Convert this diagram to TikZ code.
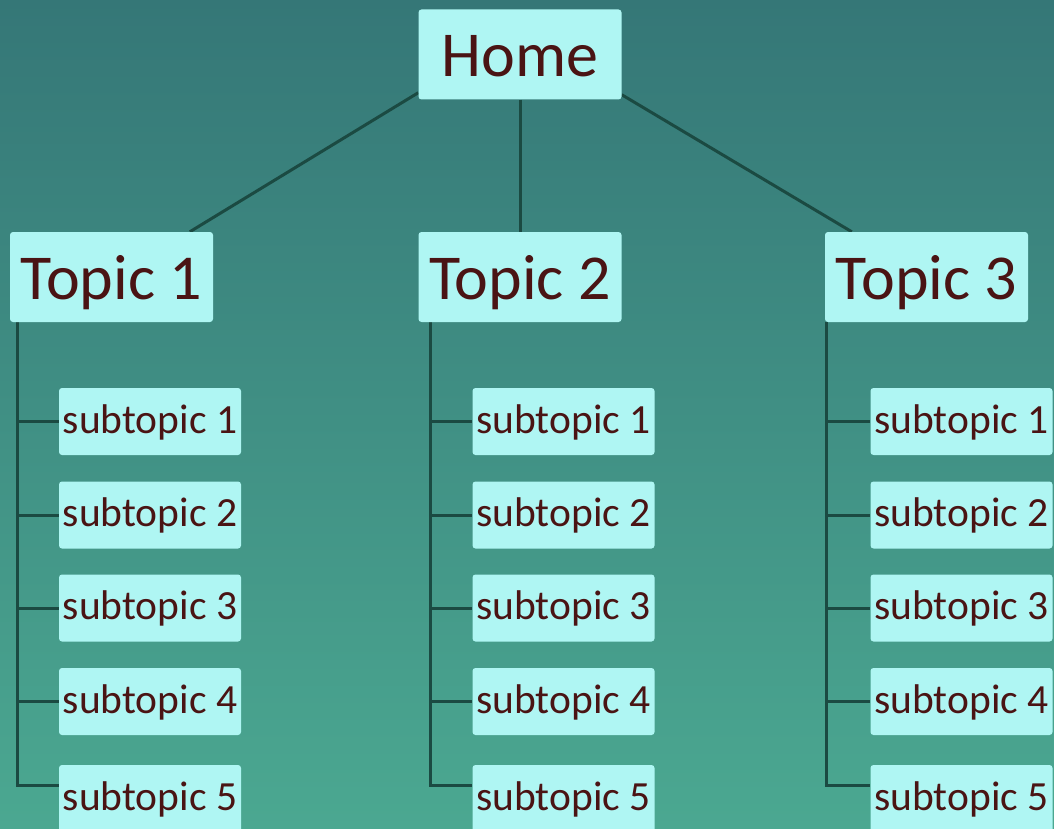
\documentclass[tikz,border=0pt]{standalone}
\usepackage{fontspec}
\setmainfont{Carlito}
\usetikzlibrary{calc,backgrounds}
\definecolor{bgtop}{HTML}{357777}
\definecolor{bgbot}{HTML}{4BA891}
\definecolor{boxfill}{HTML}{AFF6F3}
\definecolor{txt}{HTML}{4A1414}
\definecolor{ln}{HTML}{1B4A42}
\pgfdeclarelayer{bgl}
\pgfdeclarelayer{lines}
\pgfsetlayers{bgl,lines,main}
\tikzset{
  bigbox/.style={fill=boxfill, rounded corners=3pt, minimum width=203pt, minimum height=90pt, inner sep=0pt, text height=60pt, text depth=16pt, text=txt, font=\fontsize{64}{64}\selectfont},
  subbox/.style={fill=boxfill, rounded corners=3pt, minimum width=182pt, minimum height=67pt, inner sep=0pt, text height=40pt, text depth=17pt, text=txt, font=\fontsize{41.5}{41.5}\selectfont},
  conn/.style={draw=ln, line width=3pt}
}
\begin{document}
\begin{tikzpicture}[x=1pt,y=-1pt]
\begin{pgfonlayer}{bgl}
\shade[top color=bgtop, bottom color=bgbot] (0,0) rectangle (1054,829);
\end{pgfonlayer}
\useasboundingbox (0,0) rectangle (1054,829);
\node[bigbox] (home) at (520,54.5) {Home};
\node[bigbox] (t1) at (111.5,277) {Topic 1};
\node[bigbox] (t2) at (520,277) {Topic 2};
\node[bigbox] (t3) at (926.5,277) {Topic 3};
\foreach \t/\cx in {1/150,2/563.5,3/961.5}{
  \node[subbox] (s\t-1) at (\cx,421.5) {subtopic 1};
  \node[subbox] (s\t-2) at (\cx,515) {subtopic 2};
  \node[subbox] (s\t-3) at (\cx,608) {subtopic 3};
  \node[subbox] (s\t-4) at (\cx,701.5) {subtopic 4};
  \node[subbox] (s\t-5) at (\cx,798.5) {subtopic 5};
}
\begin{pgfonlayer}{lines}
\draw[conn] ($(home.south west)+(0,-7)$) -- ($(t1.north west)+(180,0)$);
\draw[conn] (home.south) -- (t2.north);
\draw[conn] ($(home.south east)+(0,-5)$) -- ($(t3.north west)+(27,0)$);
\foreach \t/\dx in {1/8,2/12,3/2}{
  \coordinate (top\t) at ($(t\t.south west)+(\dx,0)$);
  \coordinate (end\t) at ($(top\t)+(0,465)$);
  \draw[conn] (top\t) -- (end\t);
  \foreach \k in {1,2,3,4}{
    \draw[conn] (top\t |- s\t-\k.west) -- (s\t-\k.west);
  }
  \coordinate (b\t) at ($(top\t)+(0,463)$);
  \draw[conn] (b\t) -- (s\t-5.west |- b\t);
}
\end{pgfonlayer}
\end{tikzpicture}
\end{document}
